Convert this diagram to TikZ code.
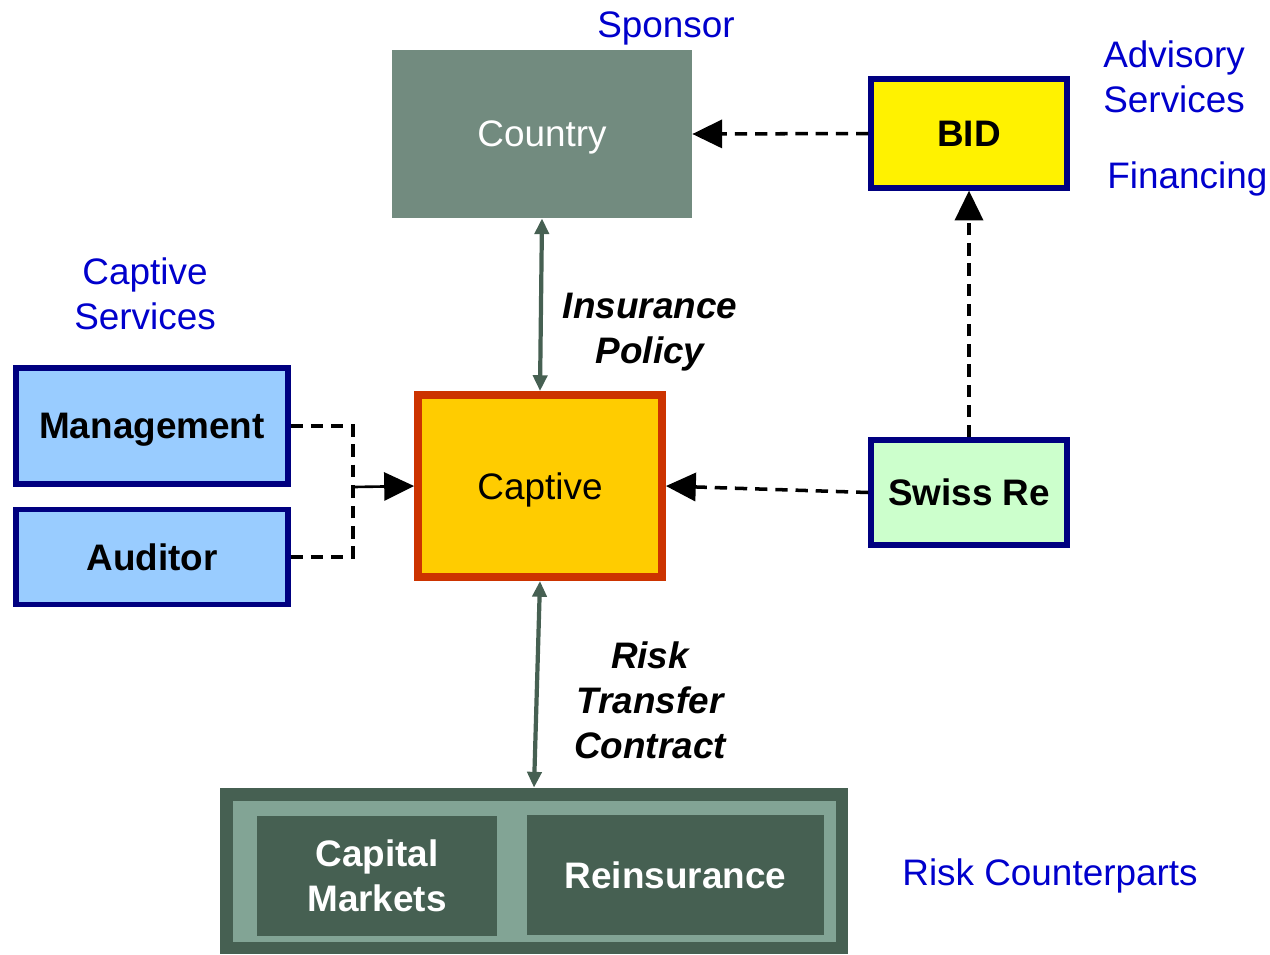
\documentclass[tikz,border=0pt]{standalone}
\usepackage{fontspec}
\setmainfont{Liberation Sans}
\usetikzlibrary{arrows.meta}
\definecolor{labblue}{RGB}{0,0,204}
\definecolor{navy}{RGB}{0,0,128}
\definecolor{countrygray}{RGB}{114,139,127}
\definecolor{dkgreen}{RGB}{70,96,82}
\definecolor{midgreen}{RGB}{130,164,149}
\definecolor{skyblue}{RGB}{153,204,255}
\definecolor{gold}{RGB}{255,204,0}
\definecolor{rust}{RGB}{204,51,0}
\definecolor{mint}{RGB}{204,255,204}
\newcommand{\dfont}{\fontsize{21}{25.5}\selectfont}

\begin{document}
\begin{tikzpicture}[x=0.02cm,y=-0.02cm,
  lab/.style={text=labblue,font=\dfont,align=center,inner sep=0pt},
  linklabel/.style={font=\dfont\bfseries\itshape,align=center,inner sep=0pt},
  navybox/.style={draw=navy,line width=3pt,font=\dfont\bfseries,inner sep=0pt,text depth=0pt},
  dashlink/.style={line width=2pt,dash pattern=on 7pt off 4.5pt},
  bigtip/.style={-{Triangle[length=17pt,width=16pt]}},
  twoway/.style={draw=dkgreen,line width=2.4pt,{Triangle[length=9pt,width=8pt]}-{Triangle[length=9pt,width=8pt]}}]
\useasboundingbox (0,0) rectangle (1270,954);

\node[fill=countrygray,text=white,font=\dfont,minimum width=6cm,minimum height=3.36cm,inner sep=0pt,text depth=0pt] (country) at (542,134) {Country};
\node[lab,text depth=0pt] (sponsor) at (666,25) {Sponsor};

\node[navybox,fill=yellow,minimum width=3.92cm,minimum height=2.18cm] (bid) at (969,133.5) {BID};
\node[lab,anchor=west,align=left] (advisory) at (1103,77) {Advisory\\Services};
\node[lab,anchor=west,text depth=0pt] (financing) at (1107,175) {Financing};

\node[lab] (captsvc) at (145,294) {Captive\\Services};
\node[navybox,fill=skyblue,minimum width=5.44cm,minimum height=2.32cm] (mgmt) at (152,426) {Management};
\node[navybox,fill=skyblue,minimum width=5.44cm,minimum height=1.9cm] (auditor) at (152,557) {Auditor};

\node[draw=rust,fill=gold,line width=4.5pt,font=\dfont,minimum width=4.88cm,minimum height=3.64cm,inner sep=0pt,text depth=0pt] (captive) at (540,486) {Captive};
\node[navybox,fill=mint,minimum width=3.92cm,minimum height=2.1cm] (swiss) at (969,492.5) {Swiss Re};

\node[linklabel] (policy) at (650,332) {Insurance\\Policy};
\node[linklabel] (transfer) at (650,700) {Risk\\Transfer\\Contract};

% risk counterparts
\node[fill=dkgreen,minimum width=12.56cm,minimum height=3.32cm,inner sep=0pt] (rc) at (534,871) {};
\fill[midgreen] (233,801) rectangle (836,942);
\node[fill=dkgreen,text=white,font=\dfont\bfseries,align=center,minimum width=4.8cm,minimum height=2.4cm,inner sep=0pt] (capm) at (377,876) {Capital\\Markets};
\node[fill=dkgreen,text=white,font=\dfont\bfseries,minimum width=5.94cm,minimum height=2.4cm,inner sep=0pt] (reins) at (675.5,875) {Reinsurance};
\node[lab,text depth=0pt] (counter) at (1050,872) {Risk Counterparts};

\coordinate (join) at (353,487);
\draw[dashlink] (mgmt.east) -| (join);
\draw[dashlink] (auditor.east) -| (join);
\draw[line width=1.5pt,bigtip] (join) -- (captive.west);
\draw[dashlink,bigtip] (swiss.west) -- (captive.east);
\draw[dashlink,bigtip] (swiss.north) -- (bid.south);
\draw[dashlink,bigtip] (bid.west) -- (country.east);
\draw[twoway] (country.south) -- (captive.north);
\draw[twoway] (captive.south) -- (rc.north);
\end{tikzpicture}
\end{document}
